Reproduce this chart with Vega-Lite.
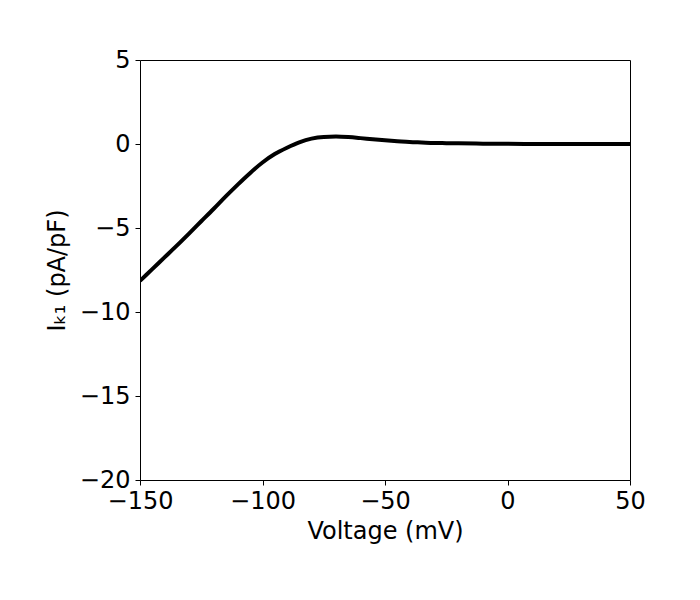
{
  "$schema": "https://vega.github.io/schema/vega-lite/v6.json",
  "width": 490,
  "height": 420,
  "autosize": "none",
  "padding": {"left": 140, "top": 60, "right": 70, "bottom": 120},
  "background": "white",
  "config": {
    "view": {"stroke": "black", "strokeWidth": 1},
    "font": "DejaVu Sans"
  },
  "data": {
    "values": [
      {"V": -150, "I": -8.15},
      {"V": -145, "I": -7.45},
      {"V": -140, "I": -6.75},
      {"V": -135, "I": -6.05},
      {"V": -130, "I": -5.33},
      {"V": -125, "I": -4.6},
      {"V": -120, "I": -3.87},
      {"V": -115, "I": -3.12},
      {"V": -110, "I": -2.4},
      {"V": -105, "I": -1.72},
      {"V": -100, "I": -1.1},
      {"V": -95, "I": -0.6},
      {"V": -90, "I": -0.22},
      {"V": -85, "I": 0.1},
      {"V": -80, "I": 0.32},
      {"V": -75, "I": 0.42},
      {"V": -70, "I": 0.44},
      {"V": -65, "I": 0.41},
      {"V": -60, "I": 0.35},
      {"V": -55, "I": 0.28},
      {"V": -50, "I": 0.22},
      {"V": -45, "I": 0.17},
      {"V": -40, "I": 0.12},
      {"V": -35, "I": 0.09},
      {"V": -30, "I": 0.06},
      {"V": -25, "I": 0.05},
      {"V": -20, "I": 0.04},
      {"V": -10, "I": 0.02},
      {"V": 0, "I": 0.01},
      {"V": 10, "I": 0.0},
      {"V": 20, "I": 0.0},
      {"V": 30, "I": 0.0},
      {"V": 40, "I": 0.0},
      {"V": 50, "I": 0.0}
    ]
  },
  "mark": {"type": "line", "color": "black", "strokeWidth": 4, "interpolate": "monotone", "clip": true},
  "encoding": {
    "x": {
      "field": "V", "type": "quantitative",
      "scale": {"domain": [-150, 50], "nice": false, "zero": false},
      "axis": {
        "title": "Voltage (mV)", "values": [-150, -100, -50, 0, 50],
        "grid": false, "domain": false, "tickColor": "black", "tickSize": 5, "tickWidth": 1,
        "labelFontSize": 24, "labelColor": "black", "labelPadding": 4, "labelFlush": false,
        "titleFontSize": 24, "titleFontWeight": "normal", "titleColor": "black", "titlePadding": 6
      }
    },
    "y": {
      "field": "I", "type": "quantitative",
      "scale": {"domain": [-20, 5], "nice": false, "zero": false},
      "axis": {
        "title": "Iₖ₁ (pA/pF)", "values": [5, 0, -5, -10, -15, -20],
        "grid": false, "domain": false, "tickColor": "black", "tickSize": 5, "tickWidth": 1,
        "labelFontSize": 24, "labelColor": "black", "labelPadding": 5,
        "titleFontSize": 24, "titleFontWeight": "normal", "titleColor": "black", "titlePadding": 10
      }
    }
  }
}
